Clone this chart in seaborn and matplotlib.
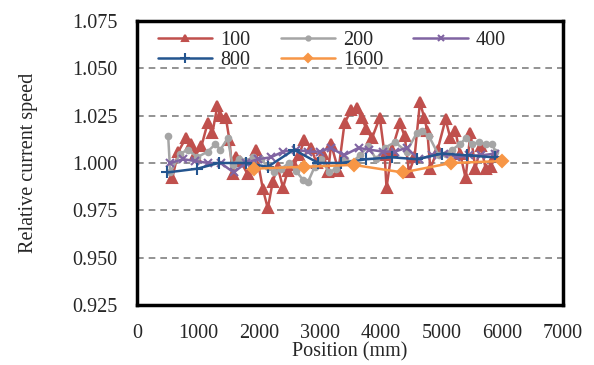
import numpy as np
import pandas as pd
import matplotlib
matplotlib.use("Agg")
import matplotlib.pyplot as plt
import seaborn as sns

# data
x_100 = [580, 680, 800, 880, 960, 1060, 1160, 1240, 1320, 1370, 1460, 1520, 1570, 1620, 1700,
         1820, 1950, 2070, 2150, 2230, 2310, 2400, 2480, 2580, 2660, 2750, 2860, 2950, 3060,
         3140, 3190, 3310, 3410, 3520, 3610, 3690, 3770, 3860, 3990, 4070, 4100, 4190, 4320,
         4400, 4470, 4560, 4650, 4720, 4770, 4820, 4940, 5070, 5150, 5230, 5310, 5400, 5480,
         5560, 5650, 5730, 5810, 5870]
y_100 = [0.992, 1.006, 1.013, 1.010, 1.004, 1.009, 1.021, 1.016, 1.030, 1.025, 1.024, 1.012,
         0.994, 1.003, 1.001, 0.994, 1.007, 0.986, 0.976, 0.990, 0.998, 0.987, 0.996, 0.999,
         1.004, 1.012, 1.008, 1.000, 1.005, 0.995, 1.010, 0.996, 1.021, 1.028, 1.029, 1.024,
         1.018, 1.013, 1.024, 1.004, 0.987, 1.007, 1.021, 1.014, 0.995, 1.003, 1.032, 1.024,
         1.017, 0.997, 1.007, 1.023, 1.013, 1.017, 1.005, 0.992, 1.016, 0.997, 1.009, 0.997,
         0.998, 1.003]

x_200 = [513, 546, 710, 840, 990, 1160, 1290, 1370, 1490, 1570, 1670, 1780, 1900, 2040, 2150,
         2250, 2370, 2500, 2610, 2730, 2810, 2920, 3030, 3160, 3270, 3410, 3520, 3660, 3800,
         3930, 4070, 4240, 4430, 4600, 4680, 4800, 4960, 5070, 5180, 5310, 5400, 5510, 5620,
         5730, 5840, 5890]
y_200 = [1.014, 0.995, 1.005, 1.007, 1.003, 1.006, 1.010, 1.007, 1.013, 0.999, 1.002, 1.001,
         1.003, 1.002, 0.998, 0.995, 0.997, 1.000, 0.996, 0.991, 0.990, 0.998, 1.002, 0.995,
         0.997, 1.002, 1.000, 1.004, 1.009, 1.002, 1.008, 1.011, 1.006, 1.016, 1.017, 1.014,
         1.004, 1.005, 1.007, 1.010, 1.013, 1.010, 1.011, 1.010, 1.010, 1.006]

x_400 = [546, 760, 960, 1175, 1374, 1590, 1787, 1986, 2200, 2400, 2615, 2813, 3000, 3190,
         3400, 3640, 3820, 4050, 4240, 4430, 4630, 4850, 5050, 5250, 5450, 5650, 5890]
y_400 = [1.000, 1.002, 1.001, 1.000, 1.000, 0.995, 1.000, 1.002, 1.003, 1.006, 1.007, 1.006,
         1.006, 1.008, 1.004, 1.008, 1.007, 1.006, 1.006, 1.008, 1.002, 1.004, 1.005, 1.003,
         1.004, 1.004, 1.005]

x_800 = [496, 993, 1340, 1787, 2150, 2580, 2980, 3360, 3770, 4187, 4600, 5014, 5428, 5875]
y_800 = [0.995, 0.997, 1.000, 1.000, 0.998, 1.007, 1.000, 1.000, 1.002, 1.003, 1.002, 1.005,
         1.004, 1.003]

x_1600 = [1920, 2747, 3558, 4369, 5163, 5990]
y_1600 = [0.997, 0.998, 0.999, 0.995, 1.000, 1.001]

labels = ["100", "200", "400", "800", "1600"]
colors = ["#C0504D", "#A5A5A5", "#8064A2", "#24558F", "#F79646"]
markers = ["^", "o", "x", "+", "D"]
msizes = [6.5, 4, 6, 9, 6]

sns.set_style("white")
plt.rcParams["font.family"] = ["Liberation Serif", "DejaVu Serif"]

fig = plt.figure(figsize=(5.94, 3.65), dpi=100)
ax = fig.add_axes([0.2306, 0.1644, 0.7172, 0.7781])

series = [(x_100, y_100), (x_200, y_200), (x_400, y_400), (x_800, y_800), (x_1600, y_1600)]
for (xs, ys), lab, c, m, ms in zip(series, labels, colors, markers, msizes):
    df = pd.DataFrame({"x": xs, "y": ys})
    sns.lineplot(data=df, x="x", y="y", ax=ax, color=c, marker=m, markersize=ms,
                 markeredgecolor=c, markeredgewidth=1.5, linewidth=1.8,
                 sort=False, estimator=None, label=lab)

ax.set_xlim(0, 7000)
ax.set_ylim(0.925, 1.075)
ax.set_xticks(np.arange(0, 7001, 1000))
ax.set_yticks(np.arange(0.925, 1.0751, 0.025))
ax.set_yticklabels([f"{v:.3f}" for v in np.arange(0.925, 1.0751, 0.025)])
for v in [0.950, 0.975, 1.000, 1.025, 1.050]:
    ax.axhline(v, color="#808080", linestyle=(0, (4, 3)), linewidth=1.2, zorder=0)

ax.tick_params(axis="y", direction="in", length=3, width=1, labelsize=14.5, pad=14)
ax.tick_params(axis="x", length=0, labelsize=14.5, pad=14)
for s in ax.spines.values():
    s.set_color("black")
    s.set_linewidth(2.5)

ax.set_xlabel("Position (mm)", fontsize=14.5)
ax.set_ylabel("Relative current speed", fontsize=14.5)
ax.xaxis.set_label_coords(0.5, -0.132)
ax.yaxis.set_label_coords(-0.232, 0.5)

# row-wise legend order: 100 200 400 / 800 1600
handles, labs = ax.get_legend_handles_labels()
order = [0, 3, 1, 4, 2]
ax.legend([handles[i] for i in order], [labs[i] for i in order],
          loc="upper left", ncol=3, frameon=False, fontsize=14.5, handlelength=2.7,
          columnspacing=1.5, handletextpad=0.4, borderaxespad=0.0, labelspacing=0.05,
          markerscale=0.75, bbox_to_anchor=(0.03, 0.995))

fig.savefig("out.png", dpi=100)
